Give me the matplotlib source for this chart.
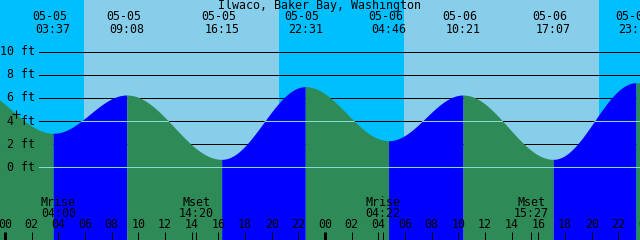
import numpy as np
import matplotlib
matplotlib.use("Agg")
import matplotlib.pyplot as plt
from matplotlib.path import Path
from matplotlib.transforms import blended_transform_factory

# ---------------- data ----------------
title = "Ilwaco, Baker Bay, Washington"

# tide extremes shown on the chart (day index 0 = 05-05)
event_dates = ["05-05", "05-05", "05-05", "05-05", "05-06", "05-06", "05-06", "05-06"]
event_times = ["03:37", "09:08", "16:15", "22:31", "04:46", "10:21", "17:07", "23:19"]
event_days = [0, 0, 0, 0, 1, 1, 1, 1]
event_heights = [2.94, 6.25, 0.69, 6.97, 2.30, 6.25, 0.69, 7.31]

# extremes just outside the window (needed for the curve at the edges)
prev_time, prev_day, prev_height = "21:24", -1, 6.93
next_time, next_day, next_height = "05:40", 2, 1.90

sunrise_times = ["05:56", "05:56"]
sunset_times = ["20:33", "20:33"]
sun_days = [0, 1]

moon_labels = ["Mrise", "Mset", "Mrise", "Mset"]
moon_times = ["04:00", "14:20", "04:22", "15:27"]
moon_days = [0, 0, 1, 1]

depth_levels = [0, 2, 4, 6, 8, 10]
datum_level = 0.0
msl_level = 4.0
hour_ticks = list(range(0, 50, 2))

now_hour, now_height = 0.86, 4.65

# ---------------- helpers ----------------
def to_hours(t, day):
    hh, mm = t.split(":")
    return day * 24 + int(hh) + int(mm) / 60.0

ev_h = [to_hours(t, d) for t, d in zip(event_times, event_days)]
all_t = [to_hours(prev_time, prev_day)] + ev_h + [to_hours(next_time, next_day)]
all_y = [prev_height] + event_heights + [next_height]

XMIN, XMAX = -0.375, 47.625
YMIN, YMAX = -6.28, 14.46

FS = 8.4
FONT = "DejaVu Sans Mono"
SKY_DAY, SKY_NIGHT = "#87ceeb", "#00bfff"
RISE, FALL = "#0000ff", "#2e8b57"
LIGHT = "#86dcd2"
LW = 0.72

fig = plt.figure(figsize=(6.4, 2.4), dpi=100)
ax = fig.add_axes([0, 0, 1, 1])
ax.set_xlim(XMIN, XMAX)
ax.set_ylim(YMIN, YMAX)
ax.axis("off")

# sky: night everywhere, day between sunrise and sunset
ax.axvspan(XMIN, XMAX, color=SKY_NIGHT, lw=0, zorder=0, antialiased=False)
for sr, ss, d in zip(sunrise_times, sunset_times, sun_days):
    ax.axvspan(to_hours(sr, d), to_hours(ss, d), color=SKY_DAY, lw=0, zorder=0,
               antialiased=False)

# depth lines (black, behind water)
for lv in depth_levels:
    ax.axhline(lv, xmin=39 / 640, xmax=1, color="black", lw=LW, zorder=1)

# tide curve: cosine between extremes
curve_x, curve_y = [], []
for i in range(len(all_t) - 1):
    t0, t1 = all_t[i], all_t[i + 1]
    y0, y1 = all_y[i], all_y[i + 1]
    tt = np.linspace(t0, t1, 200)
    yy = y0 + (y1 - y0) * (1 - np.cos(np.pi * (tt - t0) / (t1 - t0))) / 2
    color = RISE if y1 > y0 else FALL
    ax.fill_between(tt, yy, YMIN, color=color, lw=0, zorder=2, antialiased=False)
    curve_x.append(tt)
    curve_y.append(yy)
cx = np.concatenate(curve_x)
cy = np.concatenate(curve_y)
verts = np.column_stack([np.r_[cx, cx[-1], cx[0]], np.r_[cy, YMIN, YMIN]])
water = Path(verts)

# datum and mean-sea-level lines, visible only over the water
for lv in (datum_level, msl_level):
    ln = ax.axhline(lv, xmin=39 / 640, xmax=1, color=LIGHT, lw=LW, zorder=3)
    ln.set_clip_path(water, ax.transData)

# depth labels
btr = blended_transform_factory(ax.transAxes, ax.transData)
for lv in depth_levels:
    ax.text(35 / 640, lv, f"{lv} ft", transform=btr,
            ha="right", va="center", fontsize=FS, family=FONT, color="black", zorder=5)

# title
ax.text(0.5, 0.975, title, transform=ax.transAxes, ha="center", va="center",
        fontsize=FS, family=FONT, zorder=5)

# extreme labels at top
xtr = ax.get_xaxis_transform()
for d, t, h in zip(event_dates, event_times, ev_h):
    ax.annotate(d, (h, 0.930), xycoords=xtr, xytext=(-3, 0), textcoords="offset pixels",
                ha="center", va="center", fontsize=FS, family=FONT, zorder=5,
                annotation_clip=False)
    ax.text(h, 0.878, t, transform=xtr, ha="center", va="center",
            fontsize=FS, family=FONT, zorder=5)

# hour ticks and labels
for h in hour_ticks:
    lw = 2.2 if h % 24 == 0 else LW
    ax.vlines(h, 0, 8 / 240, transform=xtr, color="black", lw=lw, zorder=5)
    ax.text(h, 0.0625, f"{h % 24:02d}", transform=xtr, ha="center", va="center",
            fontsize=FS, family=FONT, zorder=5, clip_on=True)

# moon events
for lab, t, d in zip(moon_labels, moon_times, moon_days):
    h = to_hours(t, d)
    ax.vlines(h, 0, 8 / 240, transform=xtr, color="black", lw=LW, zorder=5)
    ax.text(h, 0.158, lab, transform=xtr, ha="center", va="center",
            fontsize=FS, family=FONT, zorder=5)
    ax.text(h, 0.111, t, transform=xtr, ha="center", va="center",
            fontsize=FS, family=FONT, zorder=5)

# current-time marker
ax.plot([now_hour], [now_height], marker="+", ms=6, mew=0.8, color="black", zorder=6)

fig.savefig("out.png", dpi=100)
